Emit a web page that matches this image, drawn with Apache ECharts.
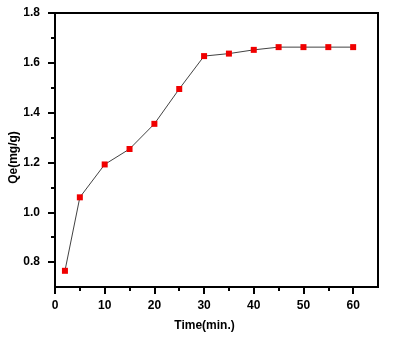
<!DOCTYPE html>
<html>
<head>
<meta charset="utf-8">
<script src="https://cdn.jsdelivr.net/npm/echarts@6/dist/echarts.min.js"></script>
<style>
  html, body { margin: 0; padding: 0; background: #fff; }
  #chart { width: 394px; height: 342px; }
</style>
</head>
<body>
<div id="chart"></div>
<script>
// Adsorption kinetics: Qe against contact time
const times = [2, 5, 10, 15, 20, 25, 30, 35, 40, 45, 50, 55, 60];
const qe = [0.765, 1.06, 1.192, 1.254, 1.355, 1.495, 1.627, 1.637, 1.652, 1.663, 1.663, 1.663, 1.663];

const xMajor = [0, 10, 20, 30, 40, 50, 60];
const xMinor = [5, 15, 25, 35, 45, 55];
const yMajor = [0.8, 1.0, 1.2, 1.4, 1.6, 1.8];
const yMinor = [0.9, 1.1, 1.3, 1.5, 1.7];

const font = '"Liberation Sans", Arial, sans-serif';
const labelStyle = { fontFamily: font, fontWeight: 'bold', fontSize: 12, color: '#000' };

const chart = echarts.init(document.getElementById('chart'));
chart.setOption({
  animation: false,
  grid: {
    left: 55, right: 16, top: 13, bottom: 55,
    containLabel: false, outerBoundsMode: 'none',
    show: true, borderColor: '#000', borderWidth: 2, backgroundColor: 'transparent'
  },
  xAxis: [
    {
      type: 'value', min: 0, max: 65,
      name: 'Time(min.)', nameLocation: 'middle', nameGap: 33, nameMoveOverlap: false,
      nameTextStyle: { ...labelStyle, padding: [0, 24, 0, 0] },
      axisLine: { show: true, lineStyle: { color: '#000', width: 2 } },
      axisTick: { show: true, length: 7, lineStyle: { color: '#000', width: 2 }, customValues: xMajor },
      axisLabel: { ...labelStyle, margin: 13, customValues: xMajor, formatter: v => String(v) },
      splitLine: { show: false }
    },
    {
      type: 'value', min: 0, max: 65, position: 'bottom', gridIndex: 0,
      axisLine: { show: false },
      axisTick: { show: true, length: 4, lineStyle: { color: '#000', width: 2 }, customValues: xMinor },
      axisLabel: { show: false },
      splitLine: { show: false }
    }
  ],
  yAxis: [
    {
      type: 'value', min: 0.7, max: 1.8,
      name: 'Qe(mg/g)', nameLocation: 'middle', nameGap: 35, nameRotate: 90, nameMoveOverlap: false,
      nameTextStyle: { ...labelStyle, padding: [0, 15, 0, 0] },
      axisLine: { show: true, lineStyle: { color: '#000', width: 2 } },
      axisTick: { show: true, length: 7, lineStyle: { color: '#000', width: 2 }, customValues: yMajor },
      axisLabel: { ...labelStyle, margin: 15, customValues: yMajor, formatter: v => v.toFixed(1) },
      splitLine: { show: false }
    },
    {
      type: 'value', min: 0.7, max: 1.8, position: 'left', gridIndex: 0,
      axisLine: { show: false },
      axisTick: { show: true, length: 4, lineStyle: { color: '#000', width: 2 }, customValues: yMinor },
      axisLabel: { show: false },
      splitLine: { show: false }
    }
  ],
  series: [{
    type: 'line',
    data: times.map((t, i) => [t, qe[i]]),
    symbol: 'rect', symbolSize: 6,
    itemStyle: { color: '#f00000' },
    lineStyle: { color: '#111', width: 0.8 }
  }]
});
</script>
</body>
</html>
